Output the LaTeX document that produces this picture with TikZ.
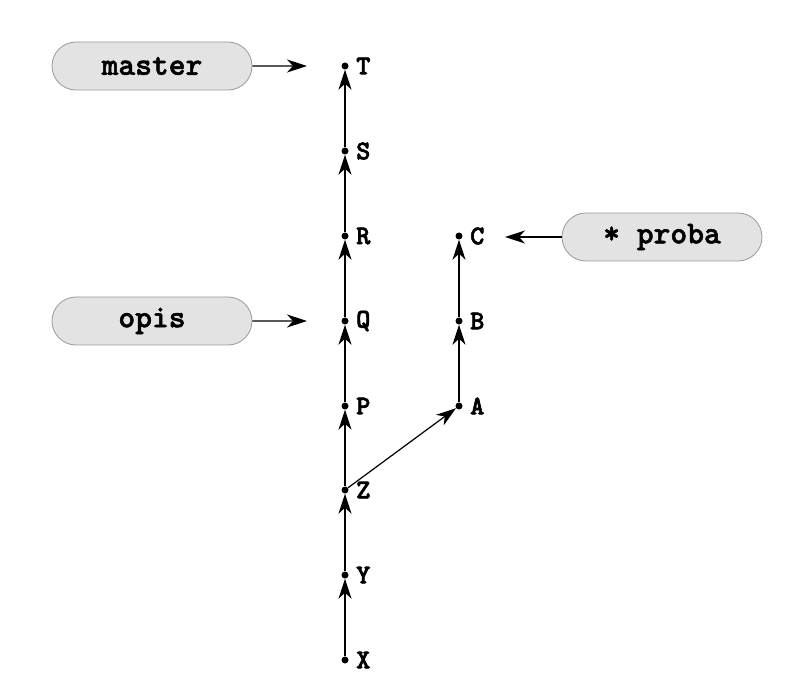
\documentclass[tikz,border=0pt]{standalone}
\usepackage{fontspec}
\newfontfamily\typebold{lmmonolt10-bold.otf}[FakeBold=1.6]
\newfontfamily\typelbl{lmmonolt10-bold.otf}[FakeBold=2.2]
\usetikzlibrary{arrows.meta,shapes.misc}
\begin{document}
\begin{tikzpicture}[x=1pt,y=-1pt,
  commit/.style={circle,fill=black,inner sep=0pt,minimum size=7pt},
  lbl/.style={font=\typelbl\fontsize{27}{29}\selectfont,inner sep=0pt,anchor=west},
  ref/.style={rounded rectangle,draw=black!40,fill=black!11,line width=0.8pt,minimum width=200pt,minimum height=48pt,inner sep=0pt,font=\typebold\fontsize{32}{34}\selectfont},
  conn/.style={line width=1.2pt,-{Stealth[length=20pt,width=13pt,inset=6pt]}}
]
\useasboundingbox (0,0) rectangle (800,700);
\node[commit] (T) at (345,66) {};
\node[commit] (S) at (345,151) {};
\node[commit] (R) at (345,236) {};
\node[commit] (Q) at (345,321) {};
\node[commit] (P) at (345,406) {};
\node[commit] (Z) at (345,490) {};
\node[commit] (Y) at (345,575) {};
\node[commit] (X) at (345,660) {};
\node[commit] (C) at (459,236) {};
\node[commit] (B) at (459,321) {};
\node[commit] (A) at (459,406) {};
\node[lbl] (Tl) at (356,66) {T};
\node[lbl] (Sl) at (356,151) {S};
\node[lbl] (Rl) at (356,236) {R};
\node[lbl] (Ql) at (356,321) {Q};
\node[lbl] (Pl) at (356,406) {P};
\node[lbl] (Zl) at (356,490) {Z};
\node[lbl] (Yl) at (356,575) {Y};
\node[lbl] (Xl) at (356,660) {X};
\node[lbl] (Cl) at (470,236) {C};
\node[lbl] (Bl) at (470,321) {B};
\node[lbl] (Al) at (470,406) {A};
\draw[conn] (X) -- (Y);
\draw[conn] (Y) -- (Z);
\draw[conn] (Z) -- (P);
\draw[conn] (P) -- (Q);
\draw[conn] (Q) -- (R);
\draw[conn] (R) -- (S);
\draw[conn] (S) -- (T);
\draw[conn] (Z) -- (A);
\draw[conn] (A) -- (B);
\draw[conn] (B) -- (C);
\node[ref] (master) at (152,66) {master};
\node[ref] (opis) at (152,321) {opis};
\node[ref] (proba) at (662,237) {* proba};
\coordinate (mt) at (307,66);
\coordinate (ot) at (307,321);
\coordinate (pt) at (505,237);
\draw[conn] (master) -- (mt);
\draw[conn] (opis) -- (ot);
\draw[conn] (proba) -- (pt);
\end{tikzpicture}
\end{document}
